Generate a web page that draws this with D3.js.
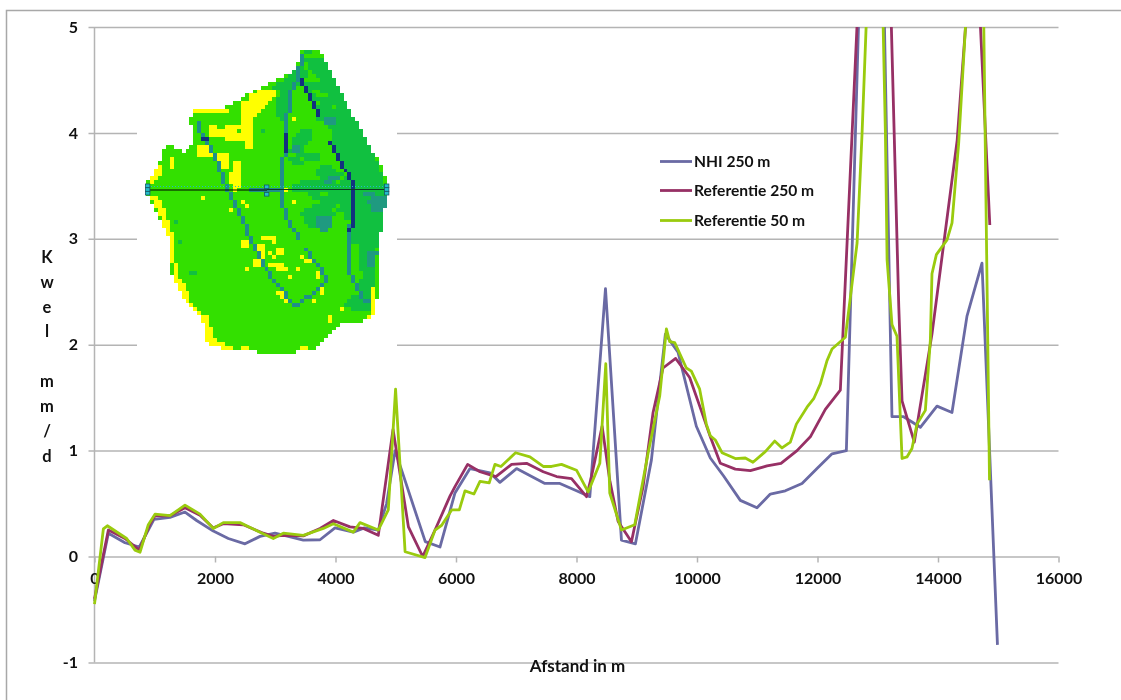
<!DOCTYPE html>
<html><head><meta charset="utf-8">
<script src="https://cdn.jsdelivr.net/npm/d3@7"></script>
<style>
html,body{margin:0;padding:0;background:#fff}
svg{display:block;filter:blur(0.35px)}
text{font-family:Lato,"Open Sans",sans-serif;font-weight:700;fill:#111}
</style></head><body><svg id="c" width="1121" height="700"></svg>
<script>
const seriesNames = ["NHI 250 m","Referentie 250 m","Referentie 50 m"];
const seriesColors = ["#6a6aa4","#973065","#9acb0e"];
const xTicks = [0,2000,4000,6000,8000,10000,12000,14000,16000];
const yTicks = [-1,0,1,2,3,4,5];
const yLabelChars = ["K","w","e","l"," ","m","m","/","d"];
const xTitle = "Afstand in m";

const nhi250 = [[0,-0.42],[230,0.22],[506,0.13],[744,0.09],[893,0.25],[987,0.35],[1253,0.37],[1502,0.42],[1695,0.34],[1972,0.24],[2221,0.17],[2498,0.12],[2747,0.19],[2996,0.22],[3217,0.19],[3466,0.155],[3743,0.158],[3992,0.27],[4296,0.23],[4480,0.27],[4710,0.25],[4848,0.5],[4990,1.0],[5490,0.14],[5735,0.09],[5983,0.6],[6232,0.83],[6564,0.79],[6729,0.7],[7005,0.83],[7475,0.69],[7724,0.69],[8000,0.62],[8221,0.565],[8481,2.53],[8746,0.155],[8978,0.12],[9243,0.91],[9475,2.1],[9685,1.93],[9989,1.23],[10221,0.93],[10442,0.76],[10719,0.53],[10996,0.46],[11217,0.59],[11466,0.62],[11743,0.69],[11992,0.83],[12241,0.97],[12479,1.0],[12680,5],[12800,7.6],[13000,8.3],[13236,1.32],[13430,1.32],[13707,1.22],[13983,1.42],[14232,1.36],[14481,2.27],[14730,2.77],[14987,-0.835]];
const ref250 = [[0,-0.4],[230,0.25],[506,0.17],[744,0.06],[921,0.31],[1004,0.385],[1253,0.385],[1502,0.46],[1751,0.39],[1972,0.27],[2138,0.31],[2470,0.3],[2802,0.22],[2968,0.19],[3134,0.2],[3466,0.195],[3743,0.265],[3965,0.34],[4240,0.28],[4462,0.265],[4710,0.2],[4955,1.2],[5210,0.28],[5447,0],[5652,0.25],[5900,0.57],[5983,0.66],[6193,0.87],[6398,0.8],[6663,0.755],[6923,0.87],[7171,0.88],[7448,0.8],[7669,0.755],[7917,0.735],[8166,0.565],[8249,0.755],[8425,1.23],[8552,0.72],[8691,0.33],[8912,0.14],[9105,0.66],[9271,1.36],[9436,1.78],[9646,1.87],[9878,1.69],[10070,1.38],[10221,1.13],[10387,0.88],[10636,0.825],[10885,0.81],[11162,0.855],[11394,0.88],[11660,1.0],[11881,1.13],[12130,1.39],[12379,1.57],[12655,5],[12800,7],[13100,7.7],[13226,5],[13349,2.36],[13403,1.47],[13607,1.08],[13900,2.1],[14318,3.93],[14457,5],[14560,6],[14650,6],[14705,5],[14860,3.13]];
const ref50 = [[0,-0.45],[147,0.26],[213,0.29],[534,0.17],[672,0.06],[755,0.04],[893,0.3],[1004,0.4],[1253,0.385],[1502,0.485],[1751,0.4],[1972,0.265],[2138,0.32],[2415,0.32],[2747,0.23],[2968,0.17],[3134,0.22],[3466,0.2],[3798,0.265],[3965,0.31],[4296,0.23],[4407,0.32],[4710,0.25],[4876,0.44],[4997,1.58],[5155,0.045],[5486,-0.01],[5652,0.25],[5762,0.295],[5928,0.44],[6055,0.44],[6149,0.62],[6298,0.59],[6398,0.71],[6552,0.695],[6646,0.87],[6746,0.85],[6989,0.98],[7227,0.94],[7448,0.85],[7586,0.85],[7751,0.87],[8000,0.815],[8193,0.61],[8387,0.88],[8486,1.82],[8552,0.6],[8746,0.25],[8967,0.3],[9188,0.975],[9381,1.515],[9492,2.15],[9547,2.03],[9630,2.02],[9823,1.78],[9906,1.75],[10044,1.58],[10155,1.25],[10221,1.14],[10304,1.1],[10415,0.98],[10636,0.925],[10802,0.93],[10929,0.89],[11134,0.99],[11289,1.09],[11411,1.025],[11549,1.08],[11649,1.25],[11826,1.41],[11937,1.49],[12047,1.63],[12158,1.85],[12241,1.96],[12462,2.07],[12545,2.445],[12657,2.96],[12740,4.0],[12807,5],[12900,6.1],[13050,6.1],[13090,5],[13127,4.0],[13155,2.8],[13236,2.19],[13319,2.08],[13403,0.925],[13485,0.94],[13568,1.02],[13651,1.25],[13790,1.38],[13873,2.04],[13900,2.67],[13973,2.85],[14150,2.99],[14233,3.15],[14343,3.9],[14456,5],[14550,5.9],[14700,7.7],[14760,5],[14855,0.72]];

// inset map, in grid cells: [row, first column, last column]
const mapLand = [[0,39,43],[1,39,44],[2,39,44],[3,38,45],[4,38,45],[5,37,46],[6,35,46],[7,33,47],[8,31,47],[9,29,48],[10,27,48],[11,25,49],[12,24,49],[13,22,50],[14,20,50],[15,12,51],[16,12,51],[17,11,52],[18,11,53],[19,12,53],[20,12,54],[21,12,54],[22,12,55],[23,12,55],[24,5,6],[24,11,56],[25,4,8],[25,10,56],[26,4,57],[27,4,58],[28,3,58],[29,3,59],[30,2,59],[31,2,59],[32,1,60],[33,0,60],[34,0,60],[35,0,60],[36,0,60],[37,1,60],[38,1,60],[39,2,60],[40,2,59],[41,3,59],[42,3,59],[43,4,59],[44,4,59],[45,5,59],[46,5,58],[47,6,58],[48,6,58],[49,6,58],[50,6,58],[51,6,58],[52,6,58],[53,6,58],[54,6,58],[55,6,58],[56,6,58],[57,7,58],[58,7,58],[59,8,58],[60,8,58],[61,9,58],[62,9,58],[63,10,57],[64,11,57],[65,12,57],[66,13,57],[67,14,56],[68,14,54],[69,15,48],[70,15,47],[71,15,46],[72,15,45],[73,15,44],[74,16,43],[75,19,42],[76,28,37]];
const mapYellow = [[10,28,32],[11,26,32],[12,26,31],[13,24,30],[14,24,29],[15,12,20],[15,24,28],[16,24,27],[17,24,26],[18,24,26],[19,16,17],[19,20,26],[20,16,22],[20,24,26],[21,16,26],[22,20,26],[23,25,26],[24,13,15],[24,25,26],[25,13,16],[26,13,16],[26,18,20],[27,18,20],[27,6,6],[28,6,6],[29,6,6],[28,19,20],[29,19,20],[28,22,23],[29,22,23],[30,22,23],[31,21,23],[32,21,23],[33,21,23],[34,22,23],[35,22,22],[35,35,35],[37,14,14],[38,24,24],[39,25,25],[38,37,37],[40,21,21],[17,37,37],[47,29,32],[48,32,32],[48,24,25],[49,24,25],[49,27,29],[50,28,29],[50,33,34],[51,28,29],[51,31,31],[51,33,34],[52,29,29],[52,32,32],[52,39,39],[53,27,28],[53,40,41],[54,27,28],[54,31,34],[55,25,25],[55,33,35],[55,38,38],[56,43,43],[57,36,36],[57,43,43],[60,44,44],[61,44,44],[61,33,34],[62,34,35],[62,41,41],[63,35,35],[63,42,42],[65,49,49],[67,46,46],[68,46,46],
[29,3,3],[30,2,3],[31,2,3],[32,1,2],[33,1,1],[37,1,2],[38,2,3],[39,2,3],[40,3,4],[41,3,4],[42,4,4],[43,4,5],[44,4,5],[45,5,5],[46,5,6],[47,6,6],[48,6,6],[49,6,6],[50,6,6],[51,6,6],[52,6,6],[53,6,6],[54,7,7],[55,7,7],[56,7,7],[57,7,7],[58,7,8],[59,8,9],[60,8,9],[61,9,10],[62,9,10],[63,10,10],[64,11,11],[65,12,12],[66,13,13],[67,14,15],[68,14,15],[69,15,15],[70,15,16],[71,15,16],[72,15,16],[73,15,17],[74,16,19],[75,19,21],[75,24,25],[75,39,40],
[44,59,59],[45,59,59],[46,58,58],[47,58,58],[48,58,58],[54,57,57],[55,57,57],[56,57,57],[57,57,57],[58,57,57],[59,57,57],[60,57,57],[61,57,57],[62,57,57],[63,57,57],[64,57,57],[65,57,57],[66,57,57],[67,56,56]];
const mapTeal = [[0,40,41],[2,40,44],[3,41,45],[4,38,39],[4,41,45],[5,37,40],[5,42,46],[6,36,40],[6,43,46],[7,35,39],[7,44,47],[8,33,38],[8,40,47],[9,32,37],[9,40,48],[10,34,36],[10,40,41],[10,44,48],[11,34,36],[11,41,42],[11,46,49],[12,33,36],[12,42,49],[13,33,36],[13,44,50],[14,33,36],[14,42,46],[14,48,50],[15,33,36],[15,43,51],[16,33,35],[16,43,51],[17,34,35],[17,43,52],[18,45,53],[19,35,35],[19,46,53],[20,29,29],[20,39,41],[20,47,54],[21,38,41],[21,47,54],[22,37,41],[22,47,55],[23,37,40],[23,47,55],[24,37,39],[24,47,56],[25,36,39],[25,47,56],[26,38,43],[26,48,57],[27,36,38],[27,40,43],[27,48,57],[28,37,39],[28,49,58],[29,44,46],[29,50,58],[30,43,47],[30,51,58],[31,43,49],[31,51,59],[32,44,47],[32,50,59],[33,39,47],[33,49,59],[34,37,60],[35,37,60],[36,41,43],[36,46,60],[37,42,60],[38,44,60],[39,42,47],[39,49,60],[40,40,46],[40,48,59],[41,39,47],[41,50,59],[42,40,46],[42,50,59],[43,7,7],[43,40,46],[43,52,59],[44,41,46],[44,53,59],[45,52,59],[46,52,58],[47,52,58],[48,8,8],[48,52,58],[49,54,58],[50,54,57],[51,54,57],[52,54,57],[53,54,57],[54,54,57],[55,54,57],[56,11,12],[56,55,57],[57,55,57],[58,54,57],[59,54,57],[60,53,56],[61,54,56],[62,52,56],[63,51,56],[64,50,56],[65,52,56]];
const mapBlue = [[42,43,46],[43,43,46],[44,43,46],[45,44,45],[37,57,60],[38,56,60],[39,57,60],[40,57,59],[51,56,58],[52,56,57],[53,56,57],[54,56,57],[17,45,47],[18,45,47],[32,46,48],[33,45,46],[36,55,57],[24,37,38],[25,37,38]];
const riverBlue = [
 [[12.7,18],[14,22],[17,26],[19,32],[21,37],[24,42],[26,48],[29,54],[33,59],[37,64],[39,63],[43,60],[45,58],[43.5,55],[41,52],[40,50]],
 [[39,1],[38,6],[36,10],[35,21],[34,31],[34,38],[35,42],[37,45],[38,47]],
 [[51,44],[51,56],[53,59],[54,62],[56,63]],
 [[34,35],[26,35]]
];
const riverDark = [[[39,7],[41,12],[43,16]],[[46,23],[48,27],[50,30],[52,34],[52,43],[51,45]],[[14,22],[14.6,22]],[[35,21],[35,25]]];
const handleCols = [0,30.2,60.4];

const svg = d3.select("#c");
const left=94.5, right=1058.5, top5=27, zero=556.5;
const x = d3.scaleLinear().domain([0,16000]).range([left,right]);
const y = d3.scaleLinear().domain([5,0]).range([top5,zero]);

const GRID="#b4b4b4";
// outer frame
svg.append("path").attr("d","M6.5,700V10.5H1121").attr("fill","none").attr("stroke","#a8a8a8").attr("stroke-width",1.5);

// y axis with gridlines
const gy = svg.append("g").attr("transform",`translate(${left},0)`)
  .call(d3.axisLeft(y).tickValues(yTicks).tickSize(6).tickFormat(d=>String(d)));
gy.select(".domain").remove();
gy.selectAll(".tick line").attr("stroke",GRID).attr("stroke-width",1.5).attr("x1",-6).attr("x2",right-left);
gy.selectAll("text").attr("x",-16.5).attr("font-size",16).attr("font-family","Lato");
svg.append("line").attr("x1",left).attr("x2",left).attr("y1",y(5)).attr("y2",y(-1)).attr("stroke",GRID).attr("stroke-width",1.5);

// x axis
const gx = svg.append("g").attr("transform",`translate(0,${zero})`)
  .call(d3.axisBottom(x).tickValues(xTicks).tickSize(6).tickFormat(d=>String(d)));
gx.select(".domain").remove();
gx.selectAll(".tick line").attr("stroke",GRID).attr("stroke-width",1.5);
gx.selectAll("text").attr("y",16).attr("dy","0.72em").attr("font-size",16).attr("font-family","Lato");

// inset map
svg.append("rect").attr("x",137).attr("y",34).attr("width",260).attr("height",324).attr("fill","#fff");
const cell=3.95;
const mx = d3.scaleLinear().domain([0,100]).rangeRound([146,146+100*cell]);
const my = d3.scaleLinear().domain([0,100]).rangeRound([50,50+100*cell]);
const map = svg.append("g").attr("shape-rendering","crispEdges");
function spans(data,col){
  map.append("g").selectAll("rect").data(data).join("rect")
   .attr("x",d=>mx(d[1])).attr("y",d=>my(d[0]))
   .attr("width",d=>mx(d[2]+1)-mx(d[1])).attr("height",d=>my(d[0]+1)-my(d[0])).attr("fill",col);
}
function rivers(lines,col){
  const cells=[];
  lines.forEach(l=>{for(let i=1;i<l.length;i++){
    const [a,b]=[l[i-1],l[i]];
    const n=Math.ceil(Math.max(Math.abs(b[0]-a[0]),Math.abs(b[1]-a[1])))||1;
    d3.range(n+1).forEach(k=>{
      cells.push([Math.round(a[1]+(b[1]-a[1])*k/n),Math.round(a[0]+(b[0]-a[0])*k/n)]);
    });
  }});
  spans(cells.map(c=>[c[0],c[1],c[1]]),col);
}
spans(mapLand,"#33e000");
spans(mapYellow,"#ffff00");
spans(mapTeal,"#11c040");
spans(mapBlue,"#1f9a80");
rivers(riverBlue,"#1f8f8a");
rivers(riverDark,"#12307f");

// transect with handles
const ty=190;
svg.append("line").attr("x1",mx(0)+2).attr("x2",mx(60.4)+2).attr("y1",ty-3.5).attr("y2",ty-3.5).attr("stroke","#20b8c8").attr("stroke-width",1).attr("stroke-dasharray","1 2");
svg.append("line").attr("x1",mx(0)+2).attr("x2",mx(30.2)+2).attr("y1",ty).attr("y2",ty).attr("stroke","#000").attr("stroke-width",1.2);
svg.append("line").attr("x1",mx(30.2)+2).attr("x2",mx(60.4)+2).attr("y1",ty-0.5).attr("y2",ty-0.5).attr("stroke","#0b3a22").attr("stroke-width",1.2);
handleCols.forEach((c,i)=>{
  const offs = i===1 ? [-5,2.5] : [-6,-2.3,1.4];
  offs.forEach(o=>svg.append("rect").attr("x",mx(c)-0.5).attr("y",ty+o).attr("width",4.4).attr("height",3.6)
    .attr("fill","#24bccb").attr("stroke","#145a68").attr("stroke-width",0.8));
});

// lines
const defs=svg.append("defs");
defs.append("clipPath").attr("id","plot").append("rect").attr("x",0).attr("y",top5).attr("width",1121).attr("height",700);
const line=d3.line().x(d=>x(d[0])).y(d=>y(d[1]));
svg.append("g").attr("clip-path","url(#plot)").selectAll("path").data([nhi250,ref250,ref50]).join("path")
  .attr("d",line).attr("fill","none").attr("stroke",(d,i)=>seriesColors[i]).attr("stroke-width",2.8).attr("stroke-linejoin","round");

// legend
const lg=svg.append("g");
seriesNames.forEach((n,i)=>{
  const ly=[161.5,190.5,220.5][i];
  lg.append("line").attr("x1",660).attr("x2",692).attr("y1",ly).attr("y2",ly).attr("stroke",seriesColors[i]).attr("stroke-width",2.8);
  lg.append("text").attr("x",694).attr("y",ly).attr("dy","0.35em").attr("font-size",15.6).text(n);
});

// titles
svg.append("text").attr("x",577.5).attr("y",666).attr("dy","0.35em").attr("text-anchor","middle").attr("font-size",17).text(xTitle);
yLabelChars.forEach((ch,i)=>{
  if(ch.trim()) svg.append("text").attr("x",47).attr("y",257+i*24.9).attr("dy","0.35em").attr("text-anchor","middle").attr("font-size",16.5).text(ch);
});
</script></body></html>
